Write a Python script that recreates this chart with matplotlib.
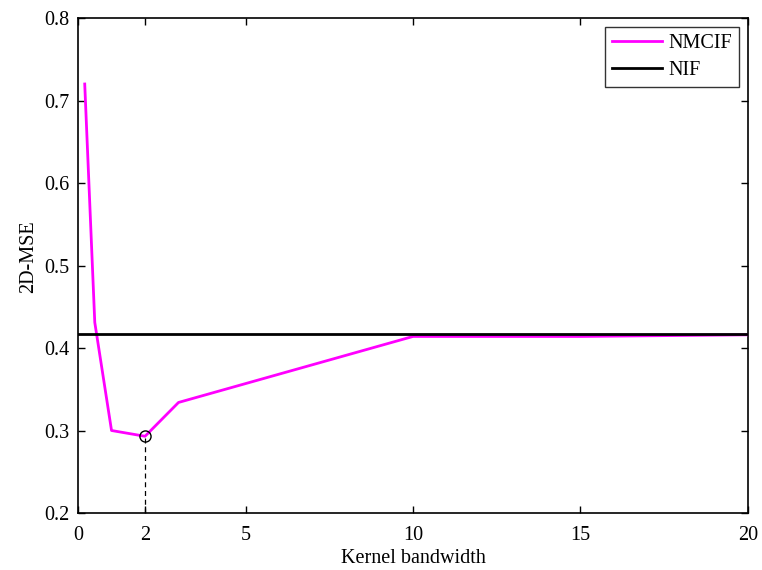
import matplotlib
matplotlib.use("Agg")
import matplotlib.pyplot as plt

bandwidth = [0.2, 0.5, 1, 2, 3, 10, 15, 20]
nmcif_mse = [0.720, 0.431, 0.300, 0.293, 0.334, 0.414, 0.414, 0.416]
nif_mse = 0.4175
best_bw = 2
best_mse = 0.293
xticks = [0, 2, 5, 10, 15, 20]
yticks = [0.2, 0.3, 0.4, 0.5, 0.6, 0.7, 0.8]

plt.rcParams['font.family'] = ['Liberation Serif', 'DejaVu Serif']
fig = plt.figure(figsize=(7.62, 5.70), dpi=100)
ax = fig.add_axes([0.1024, 0.1, 0.8792, 0.8684])

ax.plot(bandwidth, nmcif_mse, color='#ff00ff', lw=2, label='NMCIF', zorder=3)
ax.axhline(nif_mse, color='black', lw=2, label='NIF', zorder=4)
ax.plot([best_bw, best_bw], [0.2, best_mse], color='black', lw=0.9, ls=(0, (4, 3)), zorder=2)
ax.plot([best_bw], [best_mse], marker='o', ms=8, mfc='none', mec='black', mew=1, zorder=5)

ax.set_xlim(0, 20)
ax.set_ylim(0.2, 0.8)
ax.set_xticks(xticks)
ax.set_yticks(yticks)
ax.set_xticklabels([str(t) for t in xticks])
ax.set_yticklabels([f"{t:.1f}" for t in yticks])
ax.tick_params(direction='in', top=True, right=True, labelsize=14.5, length=5, width=1)
ax.tick_params(axis='x', pad=9)
ax.tick_params(axis='y', pad=6)
for s in ax.spines.values():
    s.set_linewidth(1.2)
ax.set_xlabel('Kernel bandwidth', fontsize=14.5, labelpad=3)
ax.set_ylabel('2D-MSE', fontsize=14.5)
ax.yaxis.set_label_coords(-0.059, 0.517)

leg = ax.legend(loc='upper right', fontsize=14.5, frameon=True, fancybox=False,
                edgecolor='black', handlelength=2.5, borderaxespad=0.45, handletextpad=0.3,
                borderpad=0.35, labelspacing=0.4)
leg.get_frame().set_linewidth(1)

fig.savefig('out.png', dpi=100)
